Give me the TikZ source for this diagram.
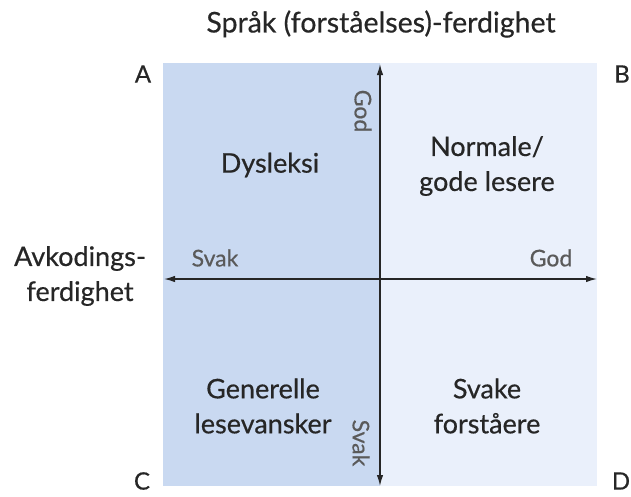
\documentclass[tikz,border=0pt]{standalone}
\usepackage{fontspec}
\setmainfont{Lato}[FakeBold=0.5]
\usetikzlibrary{arrows.meta}
\definecolor{weakblue}{HTML}{C9D9F1}
\definecolor{paleblue}{HTML}{EAF0FB}
\definecolor{textgrey}{HTML}{262626}
\definecolor{axisgrey}{HTML}{5A5A5A}
\tikzset{>={Latex[length=11pt,width=6.5pt]}}
\tikzset{
  quadlabel/.style = {align = center, text = textgrey, font = \fontsize{27}{35}\selectfont},
  cornerlabel/.style = {text = textgrey, inner sep = 0pt, font = \fontsize{24}{28}\selectfont},
  axislabel/.style = {text = axisgrey, font = \fontsize{23}{26}\selectfont},
  axisline/.style = {line width = 1.4pt, textgrey, <->}
}

\begin{document}
\begin{tikzpicture}[x = 1pt, y = -1pt]
\useasboundingbox (0,0) rectangle (631,496);
% quadrant backgrounds
\fill[weakblue] (163,63) rectangle (380,486);
\fill[paleblue] (380,63) rectangle (597,486);
% axes
\coordinate (top) at (380,64);
\coordinate (bottom) at (380,486);
\coordinate (west) at (164,279);
\coordinate (east) at (597,279);
\draw[axisline] (bottom) -- (top);
\draw[axisline] (west) -- (east);
% titles
\node[quadlabel, font = \fontsize{28.5}{32}\selectfont] (title) at (381,24) {Språk (forståelses)-ferdighet};
\node[quadlabel] (xtitle) at (80,276) {Avkodings-\\ferdighet};
% corners
\node[cornerlabel] (cA) at (143,74) {A};
\node[cornerlabel] (cB) at (622,74) {B};
\node[cornerlabel] (cC) at (142,481) {C};
\node[cornerlabel] (cD) at (621,481) {D};
% axis ends
\node[axislabel, rotate = -90] (ygood) at (363,111) {God};
\node[axislabel, rotate = -90] (yweak) at (361,443) {Svak};
\node[axislabel] (xweak) at (215,258) {Svak};
\node[axislabel] (xgood) at (551,258) {God};
% quadrants
\node[quadlabel] (dys) at (270,165) {Dysleksi};
\node[quadlabel] (normal) at (487,166) {Normale/\\gode lesere};
\node[quadlabel] (general) at (263,406) {Generelle\\lesevansker};
\node[quadlabel] (weakread) at (487,406) {Svake\\forståere};
\end{tikzpicture}
\end{document}
